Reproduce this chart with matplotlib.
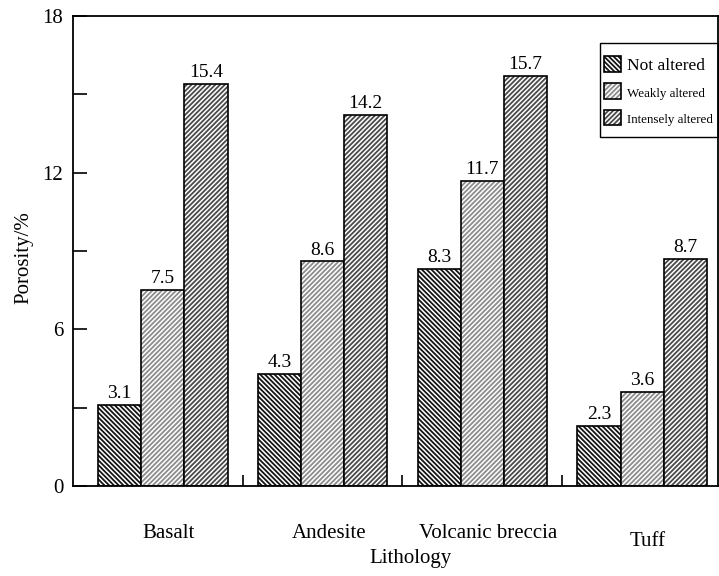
import matplotlib
matplotlib.use('Agg')
import matplotlib.pyplot as plt
import numpy as np
from matplotlib.patches import Patch, Rectangle
from matplotlib.legend_handler import HandlerTuple
from matplotlib.transforms import ScaledTranslation

categories = ['Basalt', 'Andesite', 'Volcanic breccia', 'Tuff']
series = ['Not altered', 'Weakly altered', 'Intensely altered']
not_altered = [3.1, 4.3, 8.3, 2.3]
weakly_altered = [7.5, 8.6, 11.7, 3.6]
intensely_altered = [15.4, 14.2, 15.7, 8.7]
yticks = [0, 6, 12, 18]
yticks_minor = [3, 9, 15]

plt.rcParams['font.family'] = ['Liberation Serif', 'DejaVu Serif']
plt.rcParams['hatch.linewidth'] = 1.3

fig = plt.figure(figsize=(7.19, 5.76), dpi=100)
ax = fig.add_axes([73/719, 1-486/576, (718-73)/719, 470/576])

x = np.arange(len(categories))
w = 0.27
values = [not_altered, weakly_altered, intensely_altered]
hatches = ['\\' * 7, '/' * 7, '/' * 7]
hcolors = ['#151515', '#8c8c8c', '#4a4a4a']
handles = []
for k, (vals, h, hc) in enumerate(zip(values, hatches, hcolors)):
    pos = x + (k - 1) * w
    b = ax.bar(pos, vals, w, color='white', edgecolor=hc, hatch=h, linewidth=0)
    ax.bar(pos, vals, w, fill=False, edgecolor='black', linewidth=1.2)
    ax.bar_label(b, fmt='%.1f', padding=2, fontsize=14)
    handles.append((Patch(facecolor='white', edgecolor=hc, hatch=h, linewidth=0),
                    Patch(fill=False, edgecolor='black', linewidth=1.2)))

ax.set_xlim(-0.5625, 3.475)
ax.set_ylim(0, 18)
ax.set_yticks(yticks)
ax.set_yticks(yticks_minor, minor=True)
ax.set_xticks(x)
ax.set_xticklabels(categories)
ax.set_xticks(x[:-1] + 0.5, minor=True)

ax.tick_params(axis='y', which='both', direction='in', length=10, width=1.2, labelsize=15, pad=7)
ax.tick_params(axis='x', which='major', length=0, labelsize=15, pad=27)
ax.tick_params(axis='x', which='minor', direction='in', length=8, width=1.2)

for sp in ax.spines.values():
    sp.set_linewidth(1.3)

off = ScaledTranslation(6/100, 0, fig.dpi_scale_trans)
for lab in ax.get_xticklabels():
    lab.set_transform(lab.get_transform() + off)
ax.get_xticklabels()[3].set_y(-8/470)

ax.set_ylabel('Porosity/%', fontsize=15)
ax.yaxis.set_label_coords((33-73)/645, (486-258)/470)
ax.set_xlabel('Lithology', fontsize=15)
ax.xaxis.set_label_coords((411-73)/645, (486-549)/470)

leg = ax.legend(handles, series, handler_map={tuple: HandlerTuple(ndivide=1)},
                loc='upper left', bbox_to_anchor=((604-73)/645, (486-56)/470), borderaxespad=0,
                fontsize=12.5, frameon=False,
                handlelength=1.0, handleheight=1.0, handletextpad=0.3,
                labelspacing=0.55, borderpad=0)
for t in leg.get_texts()[1:]:
    t.set_fontsize(9.4)
ax.add_patch(Rectangle(((600-73)/645, (486-137)/470), (717.5-600)/645, 94/470,
                       transform=ax.transAxes, fill=False, edgecolor='black',
                       linewidth=1.0, zorder=5, clip_on=False))

fig.savefig('out.png', dpi=100)
